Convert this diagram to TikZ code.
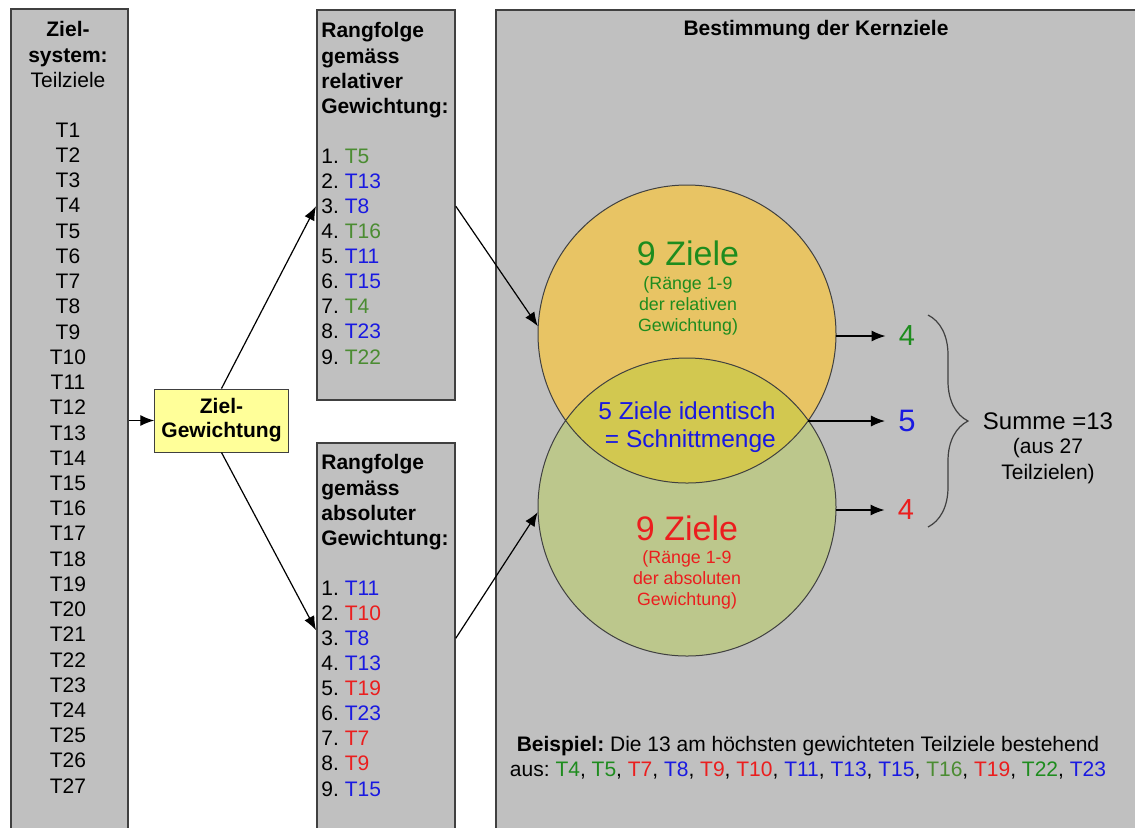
\documentclass[tikz,border=0pt]{standalone}
\usepackage{fontspec}
\setmainfont{Liberation Sans}
\usepackage{xcolor}
\usetikzlibrary{arrows.meta,positioning,decorations.pathreplacing}
\frenchspacing

\definecolor{boxgray}{RGB}{192,192,192}
\definecolor{boxline}{RGB}{64,64,64}
\definecolor{relfill}{RGB}{232,196,100}
\definecolor{absfill}{RGB}{188,199,140}
\definecolor{cutfill}{RGB}{210,200,80}
\definecolor{gewfill}{RGB}{255,255,153}
\definecolor{zgreen}{RGB}{30,140,30}
\definecolor{zolive}{RGB}{75,140,50}
\definecolor{zblue}{RGB}{25,25,225}
\definecolor{zred}{RGB}{235,30,30}

\begin{document}
\begin{tikzpicture}[x=0.5pt, y=-0.5pt,
    font=\fontsize{10.5}{12.6}\selectfont,
    panel/.style={draw=boxline, line width=0.9pt, fill=boxgray, anchor=north west, inner sep=0pt},
    tag/.style={inner sep=0pt},
    entry/.style={inner sep=0pt, anchor=west},
    head/.style={inner sep=0pt, anchor=west, align=left, font=\fontsize{10.5}{12.6}\selectfont\bfseries},
    arrow/.style={-{Latex[length=7pt,width=5.5pt]}, line width=0.6pt},
    count/.style={inner sep=6.5pt, font=\fontsize{14.5}{17}\selectfont},
    big/.style={inner sep=0pt, font=\fontsize{17}{20}\selectfont},
    small/.style={inner sep=0pt, align=center, font=\fontsize{8.9}{10.5}\selectfont},
    ring/.style={circle, minimum size=149pt, inner sep=0pt}]

    \useasboundingbox (0,0) rectangle (1135,827);
    \clip (0,0) rectangle (1135,827);

    % panels
    \node[panel, minimum width=58.5pt, minimum height=450pt] (zsys) at (10,8) {};
    \node[panel, minimum width=69pt, minimum height=195pt] (rel) at (316,9) {};
    \node[panel, minimum width=69pt, minimum height=220pt] (abs) at (316,442) {};
    \node[panel, minimum width=340pt, minimum height=450pt] (kern) at (495,9) {};

    % Zielsystem
    \node[tag, align=center] (zhead) at (68,54.5) {\textbf{Ziel-}\\\textbf{system:}\\Teilziele};
    \foreach \i in {1,...,27}
        \node[tag] (t\i) at (68,{130+25.23*(\i-1)}) {T\i};

    \node[draw=boxline, line width=0.5pt, fill=gewfill, align=center, font=\fontsize{10.5}{12}\selectfont\bfseries,
          minimum width=63.5pt, minimum height=31.5pt] (gew) at (221.5,420.5) {Ziel-\\Gewichtung};

    % Rangfolgen
    \node[head] (relhead) at (321,70.4) {Rangfolge\\gemäss\\relativer\\Gewichtung:};
    \foreach \n/\t/\c in {1/5/zolive, 2/13/zblue, 3/8/zblue, 4/16/zolive, 5/11/zblue,
                          6/15/zblue, 7/4/zolive, 8/23/zblue, 9/22/zolive}
        \node[entry] (rel\n) at (321,{156+25.1*(\n-1)}) {\n. \textcolor{\c}{T\t}};

    \node[head] (abshead) at (321,502.4) {Rangfolge\\gemäss\\absoluter\\Gewichtung:};
    \foreach \n/\t/\c in {1/11/zblue, 2/10/zred, 3/8/zblue, 4/13/zblue, 5/19/zred,
                          6/23/zblue, 7/7/zred, 8/9/zred, 9/15/zblue}
        \node[entry] (abs\n) at (321,{588+25.1*(\n-1)}) {\n. \textcolor{\c}{T\t}};

    % Kernziele
    \node[tag, font=\fontsize{10.5}{12.6}\selectfont\bfseries] (title) at (816,30) {Bestimmung der Kernziele};

    \node[ring, fill=relfill] (up) at (687,334) {};
    \node[ring, fill=absfill] (low) at (687,507) {};
    \begin{scope}
        \clip (up.center) circle[radius=74.5pt];
        \fill[cutfill] (low.center) circle[radius=74.5pt];
    \end{scope}
    \draw[boxline, line width=0.5pt] (up.center) circle[radius=74.5pt] (low.center) circle[radius=74.5pt];
    \coordinate (cut) at (808,421);

    \node[big, text=zgreen] (relbig) at (688,253) {9 Ziele};
    \node[small, text=zgreen] (relsmall) at (688,306) {(Ränge 1-9\\der relativen\\Gewichtung)};
    \node[tag, align=center, text=zblue, font=\fontsize{12.25}{14}\selectfont] (cuttext) at (687,427) {5 Ziele identisch\\\ = Schnittmenge};
    \node[big, text=zred] (absbig) at (687,528) {9 Ziele};
    \node[small, text=zred] (abssmall) at (687,580) {(Ränge 1-9\\der absoluten\\Gewichtung)};

    \node[count, text=zgreen] (n1) at (907,336) {4};
    \node[count, text=zblue, font=\fontsize{15.5}{18}\selectfont] (n2) at (907,421) {5};
    \node[count, text=zred] (n3) at (906,510) {4};

    \coordinate (btop) at (928,315);
    \coordinate (bbot) at (928,527);
    \draw[boxline, line width=0.6pt, decorate, decoration={brace, amplitude=20pt}] (btop) -- (bbot);

    \node[tag, font=\fontsize{12}{14}\selectfont] (summe) at (1048,421) {Summe =13};
    \node[tag, align=center, below=4.2pt of summe] (aus) {(aus 27\\Teilzielen)};

    \node[tag, align=center] (bsp) at (808,758) {\textbf{Beispiel:} Die 13 am höchsten gewichteten Teilziele bestehend\\
        aus: \textcolor{zgreen}{T4}, \textcolor{zgreen}{T5}, \textcolor{zred}{T7}, \textcolor{zblue}{T8},
        \textcolor{zred}{T9}, \textcolor{zred}{T10}, \textcolor{zblue}{T11}, \textcolor{zblue}{T13},
        \textcolor{zblue}{T15}, \textcolor{zolive}{T16}, \textcolor{zred}{T19}, \textcolor{zgreen}{T22},
        \textcolor{zblue}{T23}};

    % arrows
    \draw[arrow] (zsys.east |- gew.west) -- (gew.west);
    \draw[arrow] (gew.north) -- (rel.west |- rel3);
    \draw[arrow] (gew.south) -- ([yshift=4pt]abs.west |- abs3);
    \draw[arrow] (rel.east |- rel3) -- (up.177);
    \draw[arrow] (abs.east |- abs3) -- (low.182);
    \draw[arrow] (n1.west -| up.east) -- (n1.west);
    \draw[arrow] (cut) -- (n2.west);
    \draw[arrow] (n3.west -| low.east) -- (n3.west);

\end{tikzpicture}
\end{document}
